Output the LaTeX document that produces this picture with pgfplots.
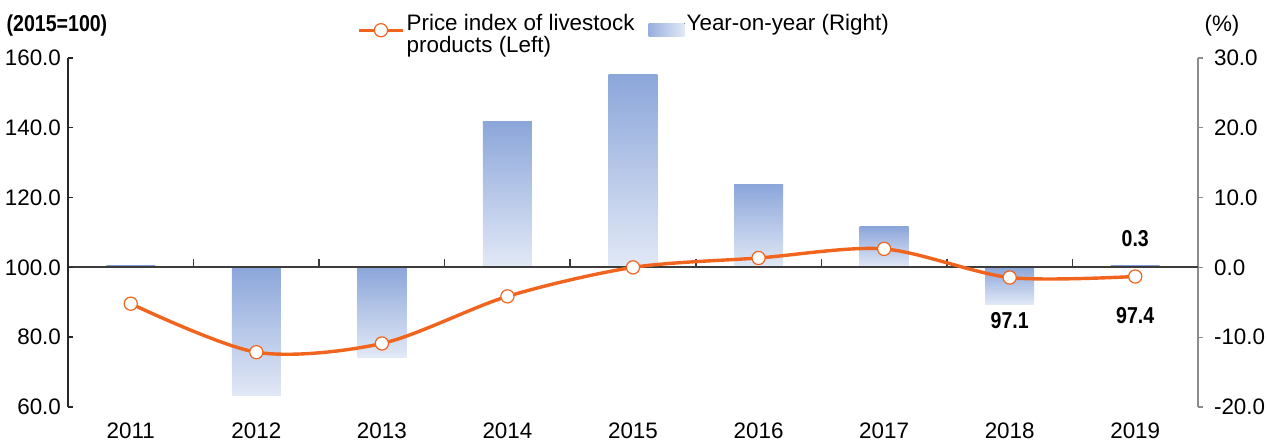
\documentclass[border=0pt]{standalone}
\usepackage{pgfplots}
\pgfplotsset{compat=1.18}
\usepackage{fontspec}
\setmainfont{Liberation Sans}
\newfontfamily\boldnarrow[FakeStretch=0.85]{Liberation Sans Bold}
\definecolor{lineor}{RGB}{240,100,30}
\definecolor{bartop}{RGB}{140,166,218}
\definecolor{barbot}{RGB}{226,233,246}
\definecolor{zeroline}{RGB}{60,60,60}
\pgfplotsset{yoybar/.style={ybar, bar width=0.39, bar shift=0pt, draw=none,
  top color=bartop, bottom color=barbot, forget plot}}
\begin{document}
\begin{tikzpicture}
\useasboundingbox (-34pt,-18.5pt) rectangle (601pt,203.5pt);
% ---------- bars, right axis ----------
\begin{axis}[
  scale only axis, width=565pt, height=174.5pt,
  xmin=-0.5, xmax=8.5, ymin=-20, ymax=30,
  axis y line*=right, axis x line*=bottom,
  x axis line style={draw=none},
  xtick={0,...,8},
  xticklabels={2011,2012,2013,2014,2015,2016,2017,2018,2019},
  x tick style={draw=none},
  xticklabel shift=4.5pt,
  ytick={-20,-10,0,10,20,30},
  ytick align=outside, major tick length=2.5pt,
  y axis line style={draw=black!45, line width=0.6pt},
  y tick style={draw=black!45, line width=0.6pt},
  yticklabel shift=2pt,
  /pgf/number format/assume math mode=true,
  yticklabel={\pgfmathprintnumber[fixed,fixed zerofill,precision=1]{\tick}},
  tick label style={font=\fontsize{11.2}{13}\selectfont},
  clip=false,
]
% Year-on-year (%), one bar per year so that each bar has its own gradient
\addplot[yoybar] coordinates {(0,0.3)};
\addplot[yoybar] coordinates {(1,-18.4)};
\addplot[yoybar] coordinates {(2,-12.9)};
\addplot[yoybar] coordinates {(3,20.9)};
\addplot[yoybar] coordinates {(4,27.6)};
\addplot[yoybar] coordinates {(5,11.9)};
\addplot[yoybar] coordinates {(6,5.8)};
\addplot[yoybar] coordinates {(7,-5.3)};
\addplot[yoybar] coordinates {(8,0.3)};
\draw[zeroline, line width=1pt] (axis cs:-0.5,0) -- (axis cs:8.5,0);
\pgfplotsinvokeforeach{0.5,1.5,2.5,3.5,4.5,5.5,6.5,7.5}{
  \draw[zeroline, line width=0.8pt] (axis cs:#1,0) -- ([yshift=4pt]axis cs:#1,0);
}
\node[font=\boldnarrow\fontsize{11.5}{13}\selectfont] at ([yshift=14.3pt]axis cs:8,0) {0.3};
\node[font=\fontsize{11.2}{13}\selectfont] at ([xshift=12pt,yshift=16pt]rel axis cs:1,1) {(\%)};
\end{axis}
% ---------- line, left axis ----------
\begin{axis}[
  scale only axis, width=565pt, height=174.5pt,
  xmin=-0.5, xmax=8.5, ymin=60, ymax=160,
  axis y line*=left, axis x line=none,
  ytick={60,80,100,120,140,160},
  ytick align=inside, major tick length=2.5pt,
  y axis line style={draw=black!85, line width=0.7pt},
  y tick style={draw=black!85, line width=0.7pt},
  /pgf/number format/assume math mode=true,
  yticklabel={\pgfmathprintnumber[fixed,fixed zerofill,precision=1]{\tick}},
  tick label style={font=\fontsize{11.2}{13}\selectfont},
  clip=false,
  legend columns=2,
  legend style={at={(rel axis cs:0.256,1)}, anchor=north west, yshift=23pt,
    draw=none, fill=none, inner sep=0pt, outer sep=0pt,
    font=\fontsize{11.2}{11}\selectfont,
    nodes={inner sep=1pt, anchor=base west},
    /tikz/every even column/.append style={column sep=4pt}},
  legend cell align=left,
]
\addplot[lineor, line width=1.7pt, smooth, mark=*, mark size=3.3pt,
  mark options={fill=white, draw=lineor, line width=0.6pt},
  legend image code/.code={\draw[mark repeat=2,mark phase=2,##1] plot coordinates {(0pt,0pt)(11pt,0pt)(22pt,0pt)};}]
  coordinates {(0,89.6)(1,75.7)(2,78.2)(3,91.7)(4,100)(5,102.7)(6,105.3)(7,97.1)(8,97.4)};
\addlegendentry{\parbox[t]{116pt}{Price index of livestock\\products (Left)}}
\addlegendimage{legend image code/.code={\fill[draw=none, left color=bartop!90, right color=barbot] (0pt,-3pt) rectangle (18pt,3.5pt);}}
\addlegendentry{Year-on-year (Right)}
\node[font=\boldnarrow\fontsize{11.5}{13}\selectfont] at ([yshift=-21.6pt]axis cs:7,97.1) {97.1};
\node[font=\boldnarrow\fontsize{11.5}{13}\selectfont] at ([yshift=-19.6pt]axis cs:8,97.4) {97.4};
\node[font=\boldnarrow\fontsize{11.5}{13}\selectfont] at ([xshift=-5.5pt,yshift=16pt]rel axis cs:0,1) {(2015=100)};
\end{axis}
\end{tikzpicture}
\end{document}
